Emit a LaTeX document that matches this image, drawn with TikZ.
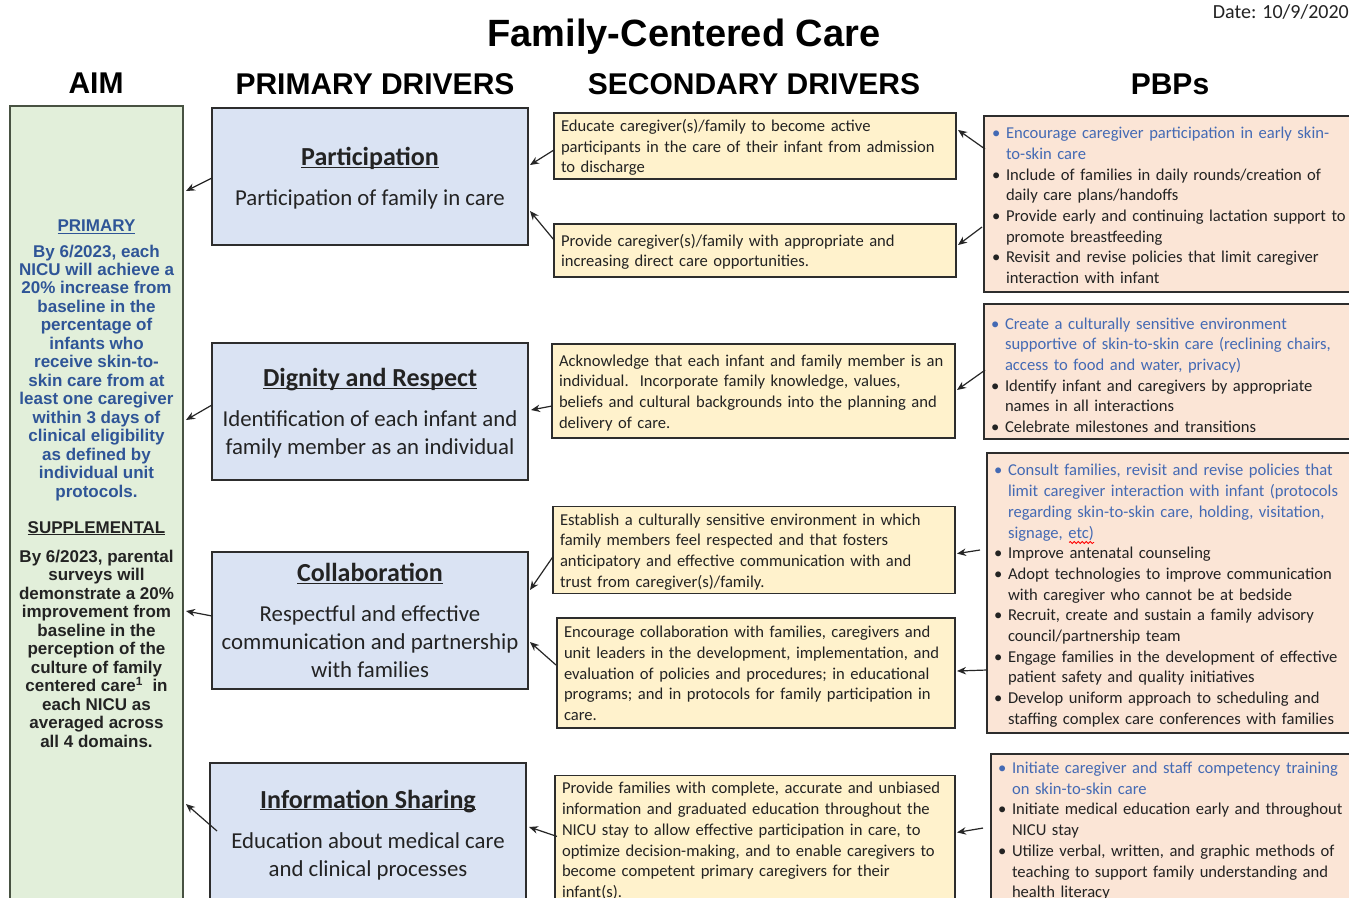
\documentclass[tikz,border=0pt]{standalone}
\usepackage{fontspec}
\setmainfont{Carlito}
\newfontfamily\arialfam{Liberation Sans}
\usetikzlibrary{arrows.meta,calc,decorations.pathmorphing}

\definecolor{aimfill}{RGB}{226,239,218}
\definecolor{aimline}{RGB}{72,82,66}
\definecolor{prifill}{RGB}{218,227,243}
\definecolor{secfill}{RGB}{255,242,204}
\definecolor{pbpfill}{RGB}{251,229,214}
\definecolor{boxline}{RGB}{45,45,45}
\definecolor{txt}{RGB}{35,35,35}
\definecolor{aimblue}{RGB}{47,85,151}
\definecolor{pbpblue}{RGB}{68,106,180}

% underline sitting close to the baseline
\newcommand{\ul}[1]{\underline{\smash{#1}}}
% bold underlined driver title
\newcommand{\ptitle}[1]{{\bfseries\fontsize{26}{28}\selectfont\ul{#1}}}
% primary driver block: title row, then the description rows
\newcommand{\pblock}[2]{\begin{tabular}{@{}c@{}}\rule{0pt}{26.5pt}\ptitle{#1}\\[12pt]#2\end{tabular}}
% fixed left-aligned lines, optional height of the first row
\newcommand{\lns}[2][18.5pt]{\begin{tabular}{@{}l@{}}\rule{0pt}{#1}#2\end{tabular}}
% bullets and hanging continuation
\newcommand{\bul}{\makebox[14pt][l]{\textbullet}}
\newcommand{\cont}{\hspace*{14pt}}

\newcommand{\prifont}{\fontsize{22.8}{28}\selectfont}
\newcommand{\secfont}{\fontsize{16.6}{20.7}\selectfont}

\begin{document}
\begin{tikzpicture}[x=1pt,y=-1pt,
  box/.style={draw=boxline, line width=1.3pt, inner sep=0pt, outer sep=0pt},
  aimbox/.style={box, draw=aimline, fill=aimfill},
  aimtext/.style={font=\arialfam\bfseries\fontsize{17}{18.46}\selectfont, align=center, anchor=base, inner sep=0pt},
  pribox/.style={box, fill=prifill, minimum width=316pt, text=txt, font=\prifont},
  secbox/.style={box, fill=secfill, align=left, inner xsep=7pt, text=txt, font=\secfont},
  pbpbox/.style={box, fill=pbpfill, align=left, inner xsep=8pt, text=txt, font=\secfont},
  hdr/.style={font=\arialfam\bfseries\fontsize{30}{36}\selectfont, anchor=base, inner sep=0pt, text=black},
  arr/.style={-{Stealth[length=9pt,width=7.5pt]}, line width=1.2pt, draw=black!85},
  wave/.style={draw=red, line width=0.8pt, decorate, decoration={snake, amplitude=1pt, segment length=4pt}},
]
\useasboundingbox (0,0) rectangle (1349,897);
\clip (0,0) rectangle (1349,897);
\fill[white] (0,0) rectangle (1349,897);

% headings
\node[font=\arialfam\bfseries\fontsize{38}{44}\selectfont, anchor=base, inner sep=0pt] (title) at (684,46) {Family-Centered Care};
\node[font=\fontsize{20}{24}\selectfont, anchor=base east, inner sep=0pt, text=txt] (date) at (1349,18) {Date: 10/9/2020};
\node[hdr] (haim) at (96,93) {AIM};
\node[hdr] (hpri) at (375,94) {PRIMARY DRIVERS};
\node[hdr] (hsec) at (754,94) {SECONDARY DRIVERS};
\node[hdr] (hpbp) at (1170,94) {PBPs};

% aim column (text nodes are placed by the baseline of their last line)
\node[aimbox, minimum width=173pt, minimum height=809pt] (aim) at (96.5,510.5) {};
\node[aimtext, text=aimblue] (aimprim) at (96.5,497) {\ul{PRIMARY}\\[6.8pt]
By 6/2023, each\\NICU will achieve a\\20\% increase from\\baseline in the\\percentage of\\infants who\\receive skin-to-\\skin care from at\\least one caregiver\\within 3 days of\\clinical eligibility\\as defined by\\individual unit\\protocols.};
\node[aimtext, text=txt] (aimsupp) at (96.5,747) {\ul{SUPPLEMENTAL}\\[10.8pt]
By 6/2023, parental\\surveys will\\demonstrate a 20\%\\improvement from\\baseline in the\\perception of the\\culture of family\\centered care\textsuperscript{1}\ \ in\\each NICU as\\averaged across\\all 4 domains.};

% primary drivers
\node[pribox, minimum height=137pt] (p1) at (370,176.5) {\pblock{Participation}{Participation of family in care}};
\node[pribox, minimum height=137pt] (p2) at (370,411.5) {\pblock{Dignity and Respect}{Identification of each infant and\\family member as an individual}};
\node[pribox, minimum height=137pt] (p3) at (370,620.5) {\pblock{Collaboration}{Respectful and effective\\communication and partnership\\with families}};
\node[pribox, minimum height=140pt] (p4) at (368,833) {\pblock{Information Sharing}{Education about medical care\\and clinical processes}};

% secondary drivers
\node[secbox, text width=388pt, minimum height=62pt] (s1) at (755,146) {\lns{Educate caregiver(s)/family to become active\\participants in the care of their infant from admission\\to discharge}};
\node[secbox, text width=388pt, minimum height=53pt] (s2) at (755,250.5) {\lns{Provide caregiver(s)/family with appropriate and\\increasing direct care opportunities.}};
\node[secbox, text width=389pt, minimum height=94pt] (s3) at (753.5,391) {\lns{Acknowledge that each infant and family member is an\\individual.\ \ Incorporate family knowledge, values,\\beliefs and cultural backgrounds into the planning and\\delivery of care.}};
\node[secbox, text width=388pt, minimum height=84pt] (s4) at (754,550) {\lns{Establish a culturally sensitive environment in which\\family members feel respected and that fosters\\anticipatory and effective communication with and\\trust from caregiver(s)/family.}};
\node[secbox, text width=384pt, minimum height=110pt] (s5) at (756,673) {\lns{Encourage collaboration with families, caregivers and\\unit leaders in the development, implementation, and\\evaluation of policies and procedures; in educational\\programs; and in protocols for family participation in\\care.}};
\node[secbox, text width=386pt, minimum height=121pt] (s6) at (755,839.5) {\lns{Provide families with complete, accurate and unbiased\\information and graduated education throughout the\\NICU stay to allow effective participation in care, to\\optimize decision-making, and to enable caregivers to\\become competent primary caregivers for their\\infant(s).}};

% PBPs
\node[pbpbox, text width=360pt, minimum height=176pt] (b1) at (1172,204) {\lns[20.5pt]{%
\textcolor{pbpblue}{\bul Encourage caregiver participation in early skin-}\\
\textcolor{pbpblue}{\cont to-skin care}\\
\bul Include of families in daily rounds/creation of\\
\cont daily care plans/handoffs\\
\bul Provide early and continuing lactation support to\\
\cont promote breastfeeding\\
\bul Revisit and revise policies that limit caregiver\\
\cont interaction with infant}};
\node[pbpbox, inner xsep=7pt, text width=362pt, minimum height=131pt] (b2) at (1172,371.5) {\lns[25pt]{%
\textcolor{pbpblue}{\bul Create a culturally sensitive environment}\\
\textcolor{pbpblue}{\cont supportive of skin-to-skin care (reclining chairs,}\\
\textcolor{pbpblue}{\cont access to food and water, privacy)}\\
\bul Identify infant and caregivers by appropriate\\
\cont names in all interactions\\
\bul Celebrate milestones and transitions}};
\node[pbpbox, inner xsep=7pt, text width=359pt, minimum height=280pt] (b3) at (1173.5,593) {\lns[20.5pt]{%
\textcolor{pbpblue}{\bul Consult families, revisit and revise policies that}\\
\textcolor{pbpblue}{\cont limit caregiver interaction with infant (protocols}\\
\textcolor{pbpblue}{\cont regarding skin-to-skin care, holding, visitation,}\\
\textcolor{pbpblue}{\cont signage, etc)}\\
\bul Improve antenatal counseling\\
\bul Adopt technologies to improve communication\\
\cont with caregiver who cannot be at bedside\\
\bul Recruit, create and sustain a family advisory\\
\cont council/partnership team\\
\bul Engage families in the development of effective\\
\cont patient safety and quality initiatives\\
\bul Develop uniform approach to scheduling and\\
\cont staffing complex care conferences with families}};
\node[pbpbox, inner xsep=7pt, text width=355pt, minimum height=146pt] (b4) at (1175.5,829) {\lns[19.5pt]{%
\textcolor{pbpblue}{\bul Initiate caregiver and staff competency training}\\
\textcolor{pbpblue}{\cont on skin-to-skin care}\\
\bul Initiate medical education early and throughout\\
\cont NICU stay\\
\bul Utilize verbal, written, and graphic methods of\\
\cont teaching to support family understanding and\\
\cont health literacy}};

% spell-check squiggle under "etc"
\draw[wave] ($(b3.north west)+(82,89.5)$) -- ++(25,0);

% primary drivers feed the aim
\draw[arr] ($(p1.north west)+(0,70)$) -- ($(aim.north east)+(3,85)$);
\draw[arr] ($(p2.north west)+(0,62)$) -- ($(aim.north east)+(3,314)$);
\draw[arr] ($(p3.north west)+(0,64)$) -- ($(aim.north east)+(3,505)$);
\draw[arr] ($(p4.north west)+(7,68)$) -- ($(aim.north east)+(3,698)$);
% secondary drivers feed the primary drivers
\draw[arr] ($(s1.north west)+(0,37)$) -- ($(p1.north east)+(2,57)$);
\draw[arr] ($(s2.north west)+(0,16)$) -- ($(p1.north east)+(2,103)$);
\draw[arr] ($(s3.north west)+(0,62)$) -- ($(p2.north east)+(3,67)$);
\draw[arr] ($(s4.north west)+(0,50)$) -- ($(p3.north east)+(2,38)$);
\draw[arr] ($(s5.north west)+(-1,47)$) -- ($(p3.north east)+(2,90)$);
\draw[arr] ($(s6.north west)+(2,61)$) -- ($(p4.north east)+(3,64)$);
% PBPs feed the secondary drivers
\draw[arr] ($(b1.north west)+(1,33)$) -- ($(s1.north east)+(2,17)$);
\draw[arr] ($(b1.north west)+(-2,111)$) -- ($(s2.north east)+(2,21)$);
\draw[arr] ($(b2.north west)+(1,66)$) -- ($(s3.north east)+(2,46)$);
\draw[arr] ($(b3.north west)+(-7,97)$) -- ($(s4.north east)+(2,47)$);
\draw[arr] ($(b3.north west)+(0,217)$) -- ($(s5.north east)+(2,53)$);
\draw[arr] ($(b4.north west)+(-8,74)$) -- ($(s6.north east)+(2,57)$);
\end{tikzpicture}
\end{document}
